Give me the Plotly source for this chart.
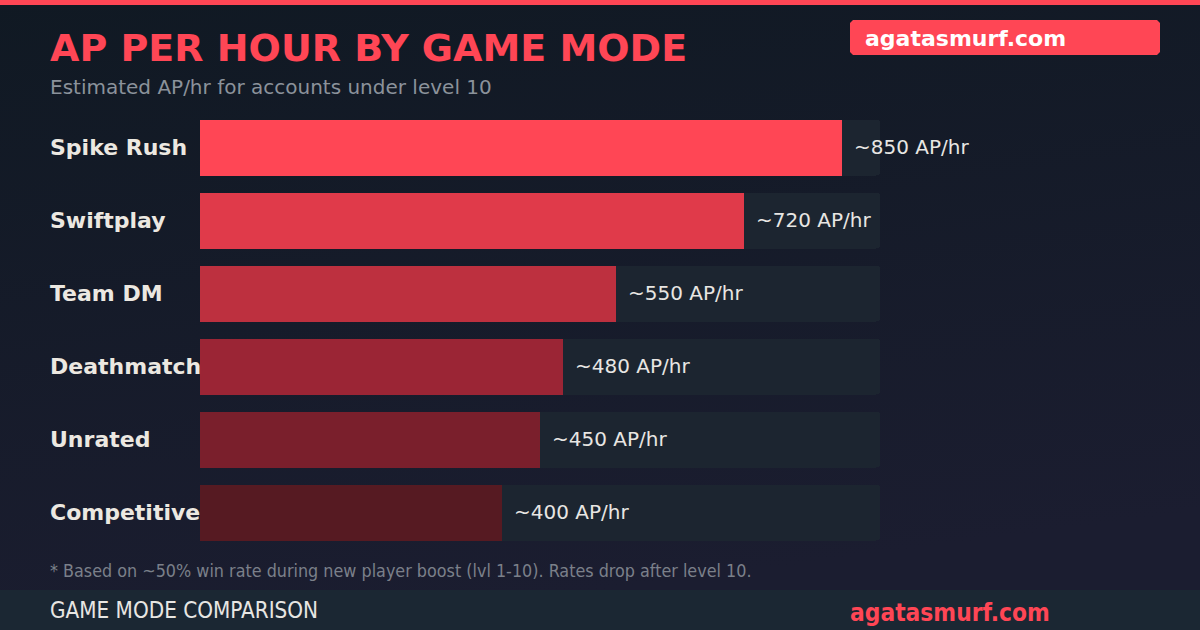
import plotly.graph_objects as go

# ---- data ----
modes = ["Spike Rush", "Swiftplay", "Team DM", "Deathmatch", "Unrated", "Competitive"]
ap_per_hour = [850, 720, 550, 480, 450, 400]
value_labels = ["~850 AP/hr", "~720 AP/hr", "~550 AP/hr", "~480 AP/hr", "~450 AP/hr", "~400 AP/hr"]
bar_colors = ["#ff4655", "#e03a4a", "#bd303f", "#9b2535", "#7a1f2c", "#561a22"]
scale_max = 900

title = "AP PER HOUR BY GAME MODE"
subtitle = "Estimated AP/hr for accounts under level 10"
badge = "agatasmurf.com"
footnote = "* Based on ~50% win rate during new player boost (lvl 1-10). Rates drop after level 10."
footer_left = "GAME MODE COMPARISON"
footer_right = "agatasmurf.com"

W, H = 1200, 630
RED = "#ff4655"
TRACK = "#1c2530"

def py(y):
    return 1 - y / H

bg_svg = (
    "data:image/svg+xml;utf8,"
    "<svg xmlns='http://www.w3.org/2000/svg' width='1200' height='630'>"
    "<defs><linearGradient id='g' x1='0' y1='0' x2='0.25' y2='1'>"
    "<stop offset='0' stop-color='%23101923'/><stop offset='1' stop-color='%231b1d30'/>"
    "</linearGradient></defs><rect width='1200' height='630' fill='url(%23g)'/></svg>"
)

fig = go.Figure()
fig.add_trace(go.Bar(
    y=modes, x=[scale_max] * len(modes), orientation="h",
    marker=dict(color=TRACK, cornerradius=4, line=dict(width=0)),
    width=0.767, hoverinfo="skip", showlegend=False,
))
fig.add_trace(go.Bar(
    y=modes, x=ap_per_hour, orientation="h",
    marker=dict(color=bar_colors, cornerradius=4, line=dict(width=0)),
    width=0.767, showlegend=False,
))

ann = []
for m, v, lab in zip(modes, ap_per_hour, value_labels):
    ann.append(dict(x=v, y=m, xref="x", yref="y", text=lab, showarrow=False,
                    xanchor="left", yanchor="middle", xshift=10,
                    font=dict(family="DejaVu Sans", size=20, color="#e8e6e3")))
    ann.append(dict(x=48 / W, y=m, xref="paper", yref="y", text="<b>%s</b>" % m,
                    showarrow=False, xanchor="left", yanchor="middle",
                    font=dict(family="DejaVu Sans", size=22, color="#ece8e1")))

ann += [
    dict(x=48 / W, y=py(48), xref="paper", yref="paper", text="<b>%s</b>" % title,
         showarrow=False, xanchor="left", yanchor="middle",
         font=dict(family="DejaVu Sans", size=38, color=RED)),
    dict(x=48 / W, y=py(87), xref="paper", yref="paper", text=subtitle,
         showarrow=False, xanchor="left", yanchor="middle",
         font=dict(family="DejaVu Sans", size=20, color="#8b929b")),
    dict(x=863 / W, y=py(38), xref="paper", yref="paper", text="<b>%s</b>" % badge,
         showarrow=False, xanchor="left", yanchor="middle",
         font=dict(family="DejaVu Sans", size=22, color="#ffffff")),
    dict(x=48 / W, y=py(570), xref="paper", yref="paper", text=footnote,
         showarrow=False, xanchor="left", yanchor="middle",
         font=dict(family="DejaVu Sans Condensed, DejaVu Sans", size=17.8, color="#7b808a")),
    dict(x=48 / W, y=py(610), xref="paper", yref="paper", text=footer_left,
         showarrow=False, xanchor="left", yanchor="middle",
         font=dict(family="DejaVu Sans Condensed, DejaVu Sans", size=22.3, color="#e8e6e3")),
    dict(x=848 / W, y=py(612), xref="paper", yref="paper", text="<b>%s</b>" % footer_right,
         showarrow=False, xanchor="left", yanchor="middle",
         font=dict(family="DejaVu Sans Condensed, DejaVu Sans", size=24.3, color=RED)),
]

r = 3
x0, x1, y0, y1 = 850, 1160, 20, 55
badge_path = ("M {a},{t} L {b},{t} L {c},{u} L {c},{v} L {b},{w} L {a},{w} "
              "L {d},{v} L {d},{u} Z").format(
    a=(x0 + r) / W, b=(x1 - r) / W, c=x1 / W, d=x0 / W,
    t=py(y0), u=py(y0 + r), v=py(y1 - r), w=py(y1))

shapes = [
    dict(type="rect", xref="paper", yref="paper", x0=0, x1=1, y0=py(590), y1=0,
         fillcolor="#1b2733", line=dict(width=0), layer="below"),
    dict(type="rect", xref="paper", yref="paper", x0=0, x1=1, y0=py(5), y1=1,
         fillcolor=RED, line=dict(width=0), layer="below"),
    dict(type="path", xref="paper", yref="paper", path=badge_path,
         fillcolor=RED, line=dict(width=0), layer="below"),
]

fig.update_layout(
    width=W, height=H, margin=dict(l=0, r=0, t=0, b=0),
    paper_bgcolor="#121a25", plot_bgcolor="rgba(0,0,0,0)",
    barmode="overlay", bargap=0,
    xaxis=dict(domain=[200 / W, 880 / W], range=[0, scale_max], visible=False, fixedrange=True),
    yaxis=dict(domain=[py(548.5), py(110.5)], autorange="reversed", visible=False,
               categoryorder="array", categoryarray=modes, fixedrange=True),
    annotations=ann, shapes=shapes,
    images=[dict(source=bg_svg, xref="paper", yref="paper", x=0, y=1, sizex=1, sizey=1,
                 xanchor="left", yanchor="top", sizing="stretch", layer="below")],
)

fig.write_html("out.html", config={"displayModeBar": False})
